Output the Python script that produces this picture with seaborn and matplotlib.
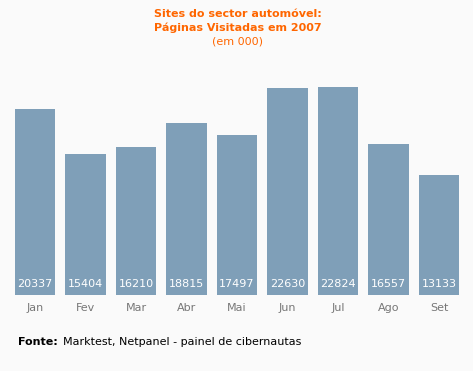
import matplotlib
matplotlib.use("Agg")
import matplotlib.pyplot as plt
import seaborn as sns
import pandas as pd

meses = ["Jan", "Fev", "Mar", "Abr", "Mai", "Jun", "Jul", "Ago", "Set"]
paginas = [20337, 15404, 16210, 18815, 17497, 22630, 22824, 16557, 13133]

df = pd.DataFrame({"mes": meses, "paginas": paginas})

sns.set_theme(style="white")
plt.rcParams["font.family"] = ["DejaVu Sans"]

bg = "#fafafa"
fig = plt.figure(figsize=(4.73, 3.71), dpi=100, facecolor=bg)
ax = fig.add_axes([0.0205, 0.2049, 0.961, 0.6150])
ax.set_facecolor(bg)

sns.barplot(data=df, x="mes", y="paginas", color="#7f9fb8", saturation=1,
            width=0.8, linewidth=0, ax=ax)
ax.set_ylim(0, 25000)
ax.set_xlim(-0.5, 8.5)

for i, v in enumerate(paginas):
    ax.text(i, 700, str(v), ha="center", va="bottom", color="white", fontsize=8)

ax.set_xlabel("")
ax.set_ylabel("")
ax.set_yticks([])
ax.tick_params(axis="x", length=0, pad=6, labelsize=8, labelcolor="#777777")
for s in ax.spines.values():
    s.set_visible(False)

fig.text(0.503, 1 - 14 / 371, "Sites do sector automóvel:", ha="center", va="center",
         color="#ff6600", fontsize=8, fontweight="bold")
fig.text(0.503, 1 - 28 / 371, "Páginas Visitadas em 2007", ha="center", va="center",
         color="#ff6600", fontsize=8, fontweight="bold")
fig.text(0.503, 1 - 42 / 371, "(em 000)", ha="center", va="center",
         color="#ff6600", fontsize=8)

fig.text(18 / 473, 1 - 342 / 371, "Fonte:", ha="left", va="center",
         color="black", fontsize=8, fontweight="bold")
fig.text(63 / 473, 1 - 342 / 371, "Marktest, Netpanel - painel de cibernautas",
         ha="left", va="center", color="black", fontsize=8)

fig.savefig("out.png", dpi=100, facecolor=bg)
